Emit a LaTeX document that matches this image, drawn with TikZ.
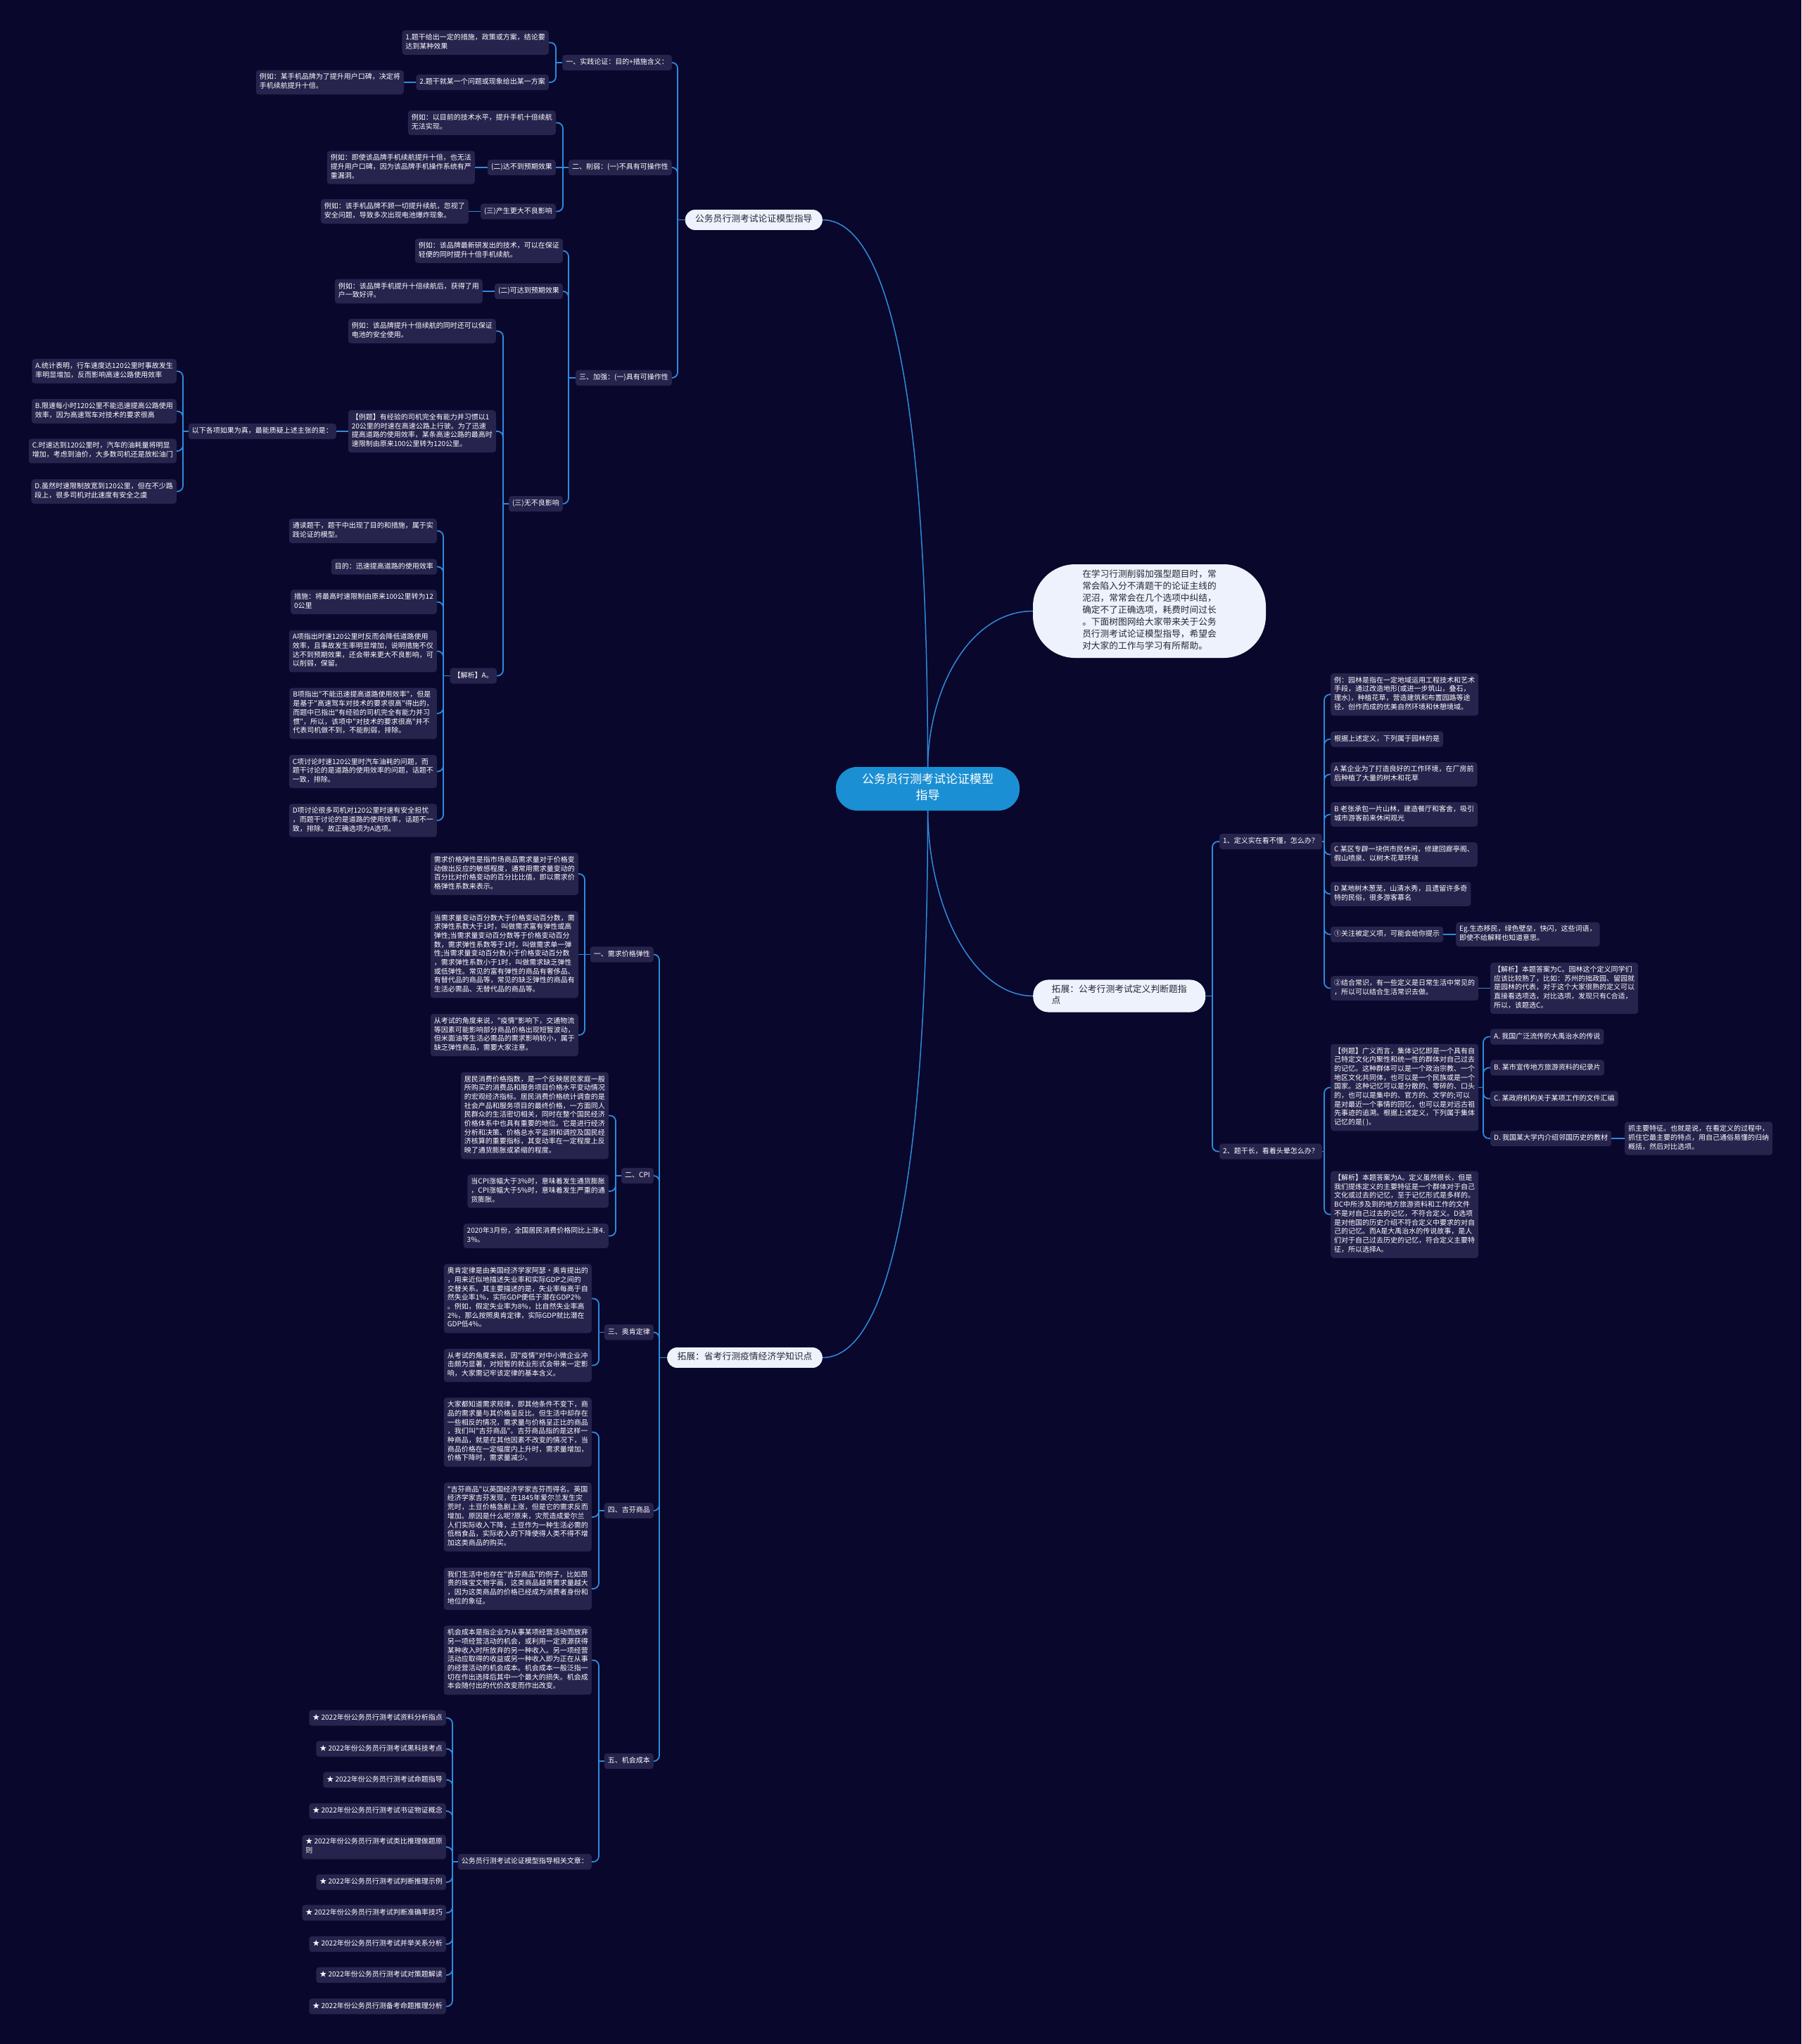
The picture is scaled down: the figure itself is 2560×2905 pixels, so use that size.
\documentclass[tikz,border=0pt]{standalone}
\usepackage{fontspec}
\setmainfont{Noto Sans CJK SC}
\newfontfamily\cjkf{Noto Sans CJK SC}
\definecolor{bg}{RGB}{10,7,44}
\definecolor{nfill}{RGB}{38,35,76}
\definecolor{lnc}{RGB}{44,140,220}
\definecolor{rootc}{RGB}{27,143,211}
\definecolor{lonec}{RGB}{237,242,252}
\definecolor{ltext}{RGB}{40,40,50}
\tikzset{
  leaf/.style={fill=nfill, text=white, rounded corners=4pt, inner xsep=5pt, inner ysep=4.8pt, align=left,
    font=\cjkf\fontsize{10}{12.7}\selectfont, execute at begin node=\strut, execute at end node=\strut},
  lone/.style={fill=lonec, text=ltext, inner xsep=14.3pt, inner ysep=6.1pt, align=left,
    font=\cjkf\fontsize{12.8}{16.7}\selectfont, execute at begin node=\strut, execute at end node=\strut, rounded corners=14pt},
  conn/.style={draw=lnc, line width=1.8pt},
  curv/.style={draw=lnc, line width=1.5pt},
}
\newcommand\brL[3]{%
  \coordinate (tmpb) at (#2,0);
  \draw[conn] (#1.west) -- (#1.west -| tmpb);
  \foreach \ch in {#3}{\draw[conn,rounded corners=8pt] (#1.west -| tmpb) -- (\ch.east -| tmpb) -- (\ch.east);}%
}
\newcommand\brR[3]{%
  \coordinate (tmpb) at (#2,0);
  \draw[conn] (#1.east) -- (#1.east -| tmpb);
  \foreach \ch in {#3}{\draw[conn,rounded corners=8pt] (#1.east -| tmpb) -- (\ch.west -| tmpb) -- (\ch.west);}%
}
\begin{document}
\begin{tikzpicture}[x=1pt,y=-1pt]
\useasboundingbox (0,0) rectangle (2560,2905);
\fill[bg] (0,0) rectangle (2560,2905);

% ---------- root and first level ----------
\node[fill=rootc, text=white, align=center, font=\cjkf\fontsize{17}{22.4}\selectfont, minimum width=261pt, minimum height=62pt,
  inner ysep=8.6pt, rounded corners=30pt, execute at begin node=\strut, execute at end node=\strut]
  (R) at (1318.5,1121) {公务员行测考试论证模型\\指导};
\node[fill=lonec, text=ltext, align=left, font=\cjkf\fontsize{12.7}{17}\selectfont, minimum width=331pt, minimum height=133pt,
  inner sep=4pt, rounded corners=60pt, execute at begin node=\strut, execute at end node=\strut]
  (I) at (1633.5,868.5) {在学习行测削弱加强型题目时，常\\常会陷入分不清题干的论证主线的\\泥沼，常常会在几个选项中纠结，\\确定不了正确选项，耗费时间过长\\。下面树图网给大家带来关于公务\\员行测考试论证模型指导，希望会\\对大家的工作与学习有所帮助。};
\node[lone, anchor=east] (A0) at (1169,312.5) {公务员行测考试论证模型指导};
\node[lone, anchor=west, minimum width=245pt, inner ysep=6.8pt, rounded corners=22pt] (B0) at (1468,1415.5) {拓展：公考行测考试定义判断题指\\点};
\node[lone, anchor=east] (C0) at (1169,1929.5) {拓展：省考行测疫情经济学知识点};

\draw[curv] (R.north) .. controls (1318,500) and (1250,312.5) .. (A0.east);
\draw[curv] (R.north) .. controls (1320,975) and (1380,868.5) .. (I.west);
\draw[curv] (R.south) .. controls (1320,1297) and (1386,1415.5) .. (B0.west);
\draw[curv] (R.south) .. controls (1318,1742) and (1250,1929.5) .. (C0.east);

% ---------- top-left subtree ----------
\node[leaf, anchor=east] (A1) at (955,89) {一、实践论证：目的+措施含义：};
\node[leaf, anchor=east] (A2) at (955,238) {二、削弱：(一)不具有可操作性};
\node[leaf, anchor=east] (A3) at (955,537) {三、加强：(一)具有可操作性};
\node[leaf, anchor=east] (A11) at (780,60.5) {1.题干给出一定的措施，政策或方案，结论要\\达到某种效果};
\node[leaf, anchor=east] (A12) at (780,117) {2.题干就某一个问题或现象给出某一方案};
\node[leaf, anchor=east] (A121) at (574,117) {例如：某手机品牌为了提升用户口碑，决定将\\手机续航提升十倍。};
\node[leaf, anchor=east] (A21) at (790,174.5) {例如：以目前的技术水平，提升手机十倍续航\\无法实现。};
\node[leaf, anchor=east] (A22) at (790,238) {(二)达不到预期效果};
\node[leaf, anchor=east] (A221) at (675,238) {例如：即使该品牌手机续航提升十倍，也无法\\提升用户口碑，因为该品牌手机操作系统有严\\重漏洞。};
\node[leaf, anchor=east] (A23) at (790,300.5) {(三)产生更大不良影响};
\node[leaf, anchor=east] (A231) at (666,300.5) {例如：该手机品牌不顾一切提升续航，忽视了\\安全问题，导致多次出现电池爆炸现象。};
\node[leaf, anchor=east] (A31) at (800,356.5) {例如：该品牌最新研发出的技术，可以在保证\\轻便的同时提升十倍手机续航。};
\node[leaf, anchor=east] (A32) at (800,414) {(二)可达到预期效果};
\node[leaf, anchor=east] (A321) at (686,414) {例如：该品牌手机提升十倍续航后，获得了用\\户一致好评。};
\node[leaf, anchor=east] (A33) at (800,716) {(三)无不良影响};
\node[leaf, anchor=east] (A331) at (705,470.5) {例如：该品牌提升十倍续航的同时还可以保证\\电池的安全使用。};
\node[leaf, anchor=east] (A332) at (705,613) {【例题】有经验的司机完全有能力并习惯以1\\20公里的时速在高速公路上行驶。为了迅速\\提高道路的使用效率，某条高速公路的最高时\\速限制由原来100公里转为120公里。};
\node[leaf, anchor=east] (A333) at (706,960.5) {【解析】A。};
\node[leaf, anchor=east] (Q) at (478,613) {以下各项如果为真，最能质疑上述主张的是：};
\node[leaf, anchor=east] (QA) at (251,527.5) {A.统计表明，行车速度达120公里时事故发生\\率明显增加，反而影响高速公路使用效率};
\node[leaf, anchor=east] (QB) at (251,584.5) {B.限速每小时120公里不能迅速提高公路使用\\效率，因为高速驾车对技术的要求很高};
\node[leaf, anchor=east] (QC) at (251,641) {C.时速达到120公里时，汽车的油耗量将明显\\增加，考虑到油价，大多数司机还是放松油门};
\node[leaf, anchor=east] (QD) at (251,698.5) {D.虽然时速限制放宽到120公里，但在不少路\\段上，很多司机对此速度有安全之虞};
\node[leaf, anchor=east] (J1) at (621,754.5) {通读题干，题干中出现了目的和措施，属于实\\践论证的模型。};
\node[leaf, anchor=east] (J2) at (621,805.5) {目的：迅速提高道路的使用效率};
\node[leaf, anchor=east] (J3) at (621,855.5) {措施：将最高时速限制由原来100公里转为12\\0公里};
\node[leaf, anchor=east] (J4) at (621,925.5) {A项指出时速120公里时反而会降低道路使用\\效率，且事故发生率明显增加，说明措施不仅\\达不到预期效果，还会带来更大不良影响，可\\以削弱，保留。};
\node[leaf, anchor=east] (J5) at (621,1014) {B项指出"不能迅速提高道路使用效率"，但是\\是基于"高速驾车对技术的要求很高"得出的，\\而题中已指出"有经验的司机完全有能力并习\\惯"，所以，该项中"对技术的要求很高"并不\\代表司机做不到，不能削弱，排除。};
\node[leaf, anchor=east] (J6) at (621,1096.5) {C项讨论时速120公里时汽车油耗的问题，而\\题干讨论的是道路的使用效率的问题，话题不\\一致，排除。};
\node[leaf, anchor=east] (J7) at (621,1166) {D项讨论很多司机对120公里时速有安全担忧\\，而题干讨论的是道路的使用效率，话题不一\\致，排除。故正确选项为A选项。};

\brL{A0}{963}{A1,A2,A3}
\brL{A1}{790}{A11,A12}
\draw[conn] (A12.west) -- (A121.east);
\brL{A2}{800}{A21,A23}
\draw[conn] (A2.west) -- (A22.east);
\draw[conn] (A22.west) -- (A221.east);
\draw[conn] (A23.west) -- (A231.east);
\brL{A3}{808}{A31,A32,A33}
\draw[conn] (A32.west) -- (A321.east);
\brL{A33}{715}{A331,A332,A333}
\draw[conn] (A332.west) -- (Q.east);
\brL{Q}{260}{QA,QB,QC,QD}
\brL{A333}{630}{J1,J2,J3,J4,J5,J6,J7}

% ---------- right subtree ----------
\node[leaf, anchor=west] (B1) at (1733,1196) {1、定义实在看不懂，怎么办？};
\node[leaf, anchor=west] (B2) at (1733,1636.5) {2、题干长，看着头晕怎么办？};
\node[leaf, anchor=west] (B11) at (1891,987) {例：园林是指在一定地域运用工程技术和艺术\\手段，通过改造地形(或进一步筑山，叠石，\\理水)，种植花草，营造建筑和布置园路等途\\径，创作而成的优美自然环境和休憩境域。};
\node[leaf, anchor=west] (B12) at (1891,1050.5) {根据上述定义，下列属于园林的是};
\node[leaf, anchor=west] (B13) at (1891,1100.5) {A 某企业为了打造良好的工作环境，在厂房前\\后种植了大量的树木和花草};
\node[leaf, anchor=west] (B14) at (1891,1157.5) {B 老张承包一片山林，建造餐厅和客舍，吸引\\城市游客前来休闲观光};
\node[leaf, anchor=west] (B15) at (1891,1214.5) {C 某区专辟一块供市民休闲，修建回廊亭阁、\\假山喷泉、以树木花草环绕};
\node[leaf, anchor=west] (B16) at (1891,1270.5) {D 某地树木葱茏，山清水秀，且遗留许多奇\\特的民俗，很多游客慕名};
\node[leaf, anchor=west] (B17) at (1891,1328) {①关注被定义项，可能会给你提示};
\node[leaf, anchor=west] (B18) at (1891,1404.5) {②结合常识，有一些定义是日常生活中常见的\\，所以可以结合生活常识去做。};
\node[leaf, anchor=west] (B171) at (2069,1328) {Eg.生态移民，绿色壁垒，快闪，这些词语，\\即使不给解释也知道意思。};
\node[leaf, anchor=west] (B181) at (2118,1404.5) {【解析】本题答案为C。园林这个定义同学们\\应该比较熟了，比如：苏州的拙政园、留园就\\是园林的代表，对于这个大家很熟的定义可以\\直接看选项选，对比选项，发现只有C合适，\\所以，该题选C。};
\node[leaf, anchor=west] (B21) at (1891,1545.5) {【例题】广义而言，集体记忆即是一个具有自\\己特定文化内聚性和统一性的群体对自己过去\\的记忆。这种群体可以是一个政治宗教、一个\\地区文化共同体，也可以是一个民族或是一个\\国家。这种记忆可以是分散的、零碎的、口头\\的，也可以是集中的、官方的、文学的;可以\\是对最近一个事情的回忆，也可以是对远古祖\\先事迹的追溯。根据上述定义，下列属于集体\\记忆的是( )。};
\node[leaf, anchor=west] (B22) at (1891,1726) {【解析】本题答案为A。定义虽然很长，但是\\我们提炼定义的主要特征是一个群体对于自己\\文化或过去的记忆，至于记忆形式是多样的。\\BC中所涉及到的地方旅游资料和工作的文件\\不是对自己过去的记忆，不符合定义。D选项\\是对他国的历史介绍不符合定义中要求的对自\\己的记忆。而A是大禹治水的传说故事，是人\\们对于自己过去历史的记忆，符合定义主要特\\征，所以选择A。};
\node[leaf, anchor=west] (B211) at (2118,1473.5) {A. 我国广泛流传的大禹治水的传说};
\node[leaf, anchor=west] (B212) at (2118,1517.5) {B. 某市宣传地方旅游资料的纪录片};
\node[leaf, anchor=west] (B213) at (2118,1561.5) {C. 某政府机构关于某项工作的文件汇编};
\node[leaf, anchor=west] (B214) at (2118,1618) {D. 我国某大学内介绍邻国历史的教材};
\node[leaf, anchor=west] (B2141) at (2309,1618) {抓主要特征。也就是说，在看定义的过程中，\\抓住它最主要的特点，用自己通俗易懂的归纳\\概括，然后对比选项。};

\brR{B0}{1723}{B1,B2}
\brR{B1}{1882}{B11,B12,B13,B14,B15,B16,B17,B18}
\draw[conn] (B17.east) -- (B171.west);
\draw[conn] (B18.east) -- (B181.west);
\brR{B2}{1882}{B21,B22}
\brR{B21}{2108}{B211,B212,B213,B214}
\draw[conn] (B214.east) -- (B2141.west);

% ---------- bottom-left subtree ----------
\node[leaf, anchor=east] (C1) at (929,1356.5) {一、需求价格弹性};
\node[leaf, anchor=east] (C2) at (929,1671) {二、CPI};
\node[leaf, anchor=east] (C3) at (929,1893.5) {三、奥肯定律};
\node[leaf, anchor=east] (C4) at (929,2147) {四、吉芬商品};
\node[leaf, anchor=east] (C5) at (929,2503) {五、机会成本};
\node[leaf, anchor=east] (C11) at (822,1242) {需求价格弹性是指市场商品需求量对于价格变\\动做出反应的敏感程度，通常用需求量变动的\\百分比对价格变动的百分比比值，即以需求价\\格弹性系数来表示。};
\node[leaf, anchor=east] (C12) at (822,1356.5) {当需求量变动百分数大于价格变动百分数，需\\求弹性系数大于1时，叫做需求富有弹性或高\\弹性;当需求量变动百分数等于价格变动百分\\数，需求弹性系数等于1时，叫做需求单一弹\\性;当需求量变动百分数小于价格变动百分数\\，需求弹性系数小于1时，叫做需求缺乏弹性\\或低弹性。常见的富有弹性的商品有奢侈品、\\有替代品的商品等，常见的缺乏弹性的商品有\\生活必需品、无替代品的商品等。};
\node[leaf, anchor=east] (C13) at (822,1471) {从考试的角度来说，"疫情"影响下，交通物流\\等因素可能影响部分商品价格出现短暂波动，\\但米面油等生活必需品的需求影响较小，属于\\缺乏弹性商品，需要大家注意。};
\node[leaf, anchor=east] (C21) at (865,1585.5) {居民消费价格指数，是一个反映居民家庭一般\\所购买的消费品和服务项目价格水平变动情况\\的宏观经济指标。居民消费价格统计调查的是\\社会产品和服务项目的最终价格，一方面同人\\民群众的生活密切相关，同时在整个国民经济\\价格体系中也具有重要的地位。它是进行经济\\分析和决策、价格总水平监测和调控及国民经\\济核算的重要指标，其变动率在一定程度上反\\映了通货膨胀或紧缩的程度。};
\node[leaf, anchor=east] (C22) at (865,1693) {当CPI涨幅大于3\%时，意味着发生通货膨胀\\，CPI涨幅大于5\%时，意味着发生严重的通\\货膨胀。};
\node[leaf, anchor=east] (C23) at (865,1756.5) {2020年3月份，全国居民消费价格同比上涨4.\\3\%。};
\node[leaf, anchor=east] (C31) at (841,1845.5) {奥肯定律是由美国经济学家阿瑟·奥肯提出的\\，用来近似地描述失业率和实际GDP之间的\\交替关系。其主要描述的是，失业率每高于自\\然失业率1\%，实际GDP便低于潜在GDP2\%\\。例如，假定失业率为8\%，比自然失业率高\\2\%，那么按照奥肯定律，实际GDP就比潜在\\GDP低4\%。};
\node[leaf, anchor=east] (C32) at (841,1940.5) {从考试的角度来说，因"疫情"对中小微企业冲\\击颇为显著，对短暂的就业形式会带来一定影\\响，大家需记牢该定律的基本含义。};
\node[leaf, anchor=east] (C41) at (841,2035.5) {大家都知道需求规律，即其他条件不变下，商\\品的需求量与其价格呈反比。但生活中却存在\\一些相反的情况，需求量与价格呈正比的商品\\，我们叫"吉芬商品"。吉芬商品指的是这样一\\种商品，就是在其他因素不改变的情况下，当\\商品价格在一定幅度内上升时，需求量增加，\\价格下降时，需求量减少。};
\node[leaf, anchor=east] (C42) at (841,2156) {"吉芬商品"以英国经济学家吉芬而得名。英国\\经济学家吉芬发现，在1845年爱尔兰发生灾\\荒时，土豆价格急剧上涨，但是它的需求反而\\增加。原因是什么呢?原来，灾荒造成爱尔兰\\人们实际收入下降，土豆作为一种生活必需的\\低档食品，实际收入的下降使得人类不得不增\\加这类商品的购买。};
\node[leaf, anchor=east] (C43) at (841,2258) {我们生活中也存在"吉芬商品"的例子，比如昂\\贵的珠宝文物字画，这类商品越贵需求量越大\\，因为这类商品的价格已经成为消费者身份和\\地位的象征。};
\node[leaf, anchor=east] (C51) at (841,2359.5) {机会成本是指企业为从事某项经营活动而放弃\\另一项经营活动的机会，或利用一定资源获得\\某种收入时所放弃的另一种收入。另一项经营\\活动应取得的收益或另一种收入即为正在从事\\的经营活动的机会成本。机会成本一般泛指一\\切在作出选择后其中一个最大的损失。机会成\\本会随付出的代价改变而作出改变。};
\node[leaf, anchor=east] (C52) at (841,2646) {公务员行测考试论证模型指导相关文章：};
\node[leaf, anchor=east] (L1) at (634,2441.5) {★ 2022年份公务员行测考试资料分析指点};
\node[leaf, anchor=east] (L2) at (634,2485.5) {★ 2022年份公务员行测考试黑科技考点};
\node[leaf, anchor=east] (L3) at (634,2529.5) {★ 2022年份公务员行测考试命题指导};
\node[leaf, anchor=east] (L4) at (634,2574) {★ 2022年份公务员行测考试书证物证概念};
\node[leaf, anchor=east] (L5) at (634,2625) {★ 2022年份公务员行测考试类比推理做题原\\则};
\node[leaf, anchor=east] (L6) at (634,2675) {★ 2022年公务员行测考试判断推理示例};
\node[leaf, anchor=east] (L7) at (634,2718.5) {★ 2022年份公务员行测考试判断准确率技巧};
\node[leaf, anchor=east] (L8) at (634,2763) {★ 2022年份公务员行测考试并举关系分析};
\node[leaf, anchor=east] (L9) at (634,2807) {★ 2022年份公务员行测考试对策题解读};
\node[leaf, anchor=east] (L10) at (634,2851.5) {★ 2022年份公务员行测备考命题推理分析};

\brL{C0}{937}{C1,C2,C3,C4,C5}
\brL{C1}{831}{C11,C13}
\draw[conn] (C1.west) -- (C12.east);
\brL{C2}{875}{C21,C22,C23}
\brL{C3}{851}{C31,C32}
\brL{C4}{851}{C41,C42,C43}
\brL{C5}{851}{C51,C52}
\brL{C52}{643}{L1,L2,L3,L4,L5,L6,L7,L8,L9,L10}
\end{tikzpicture}
\end{document}
